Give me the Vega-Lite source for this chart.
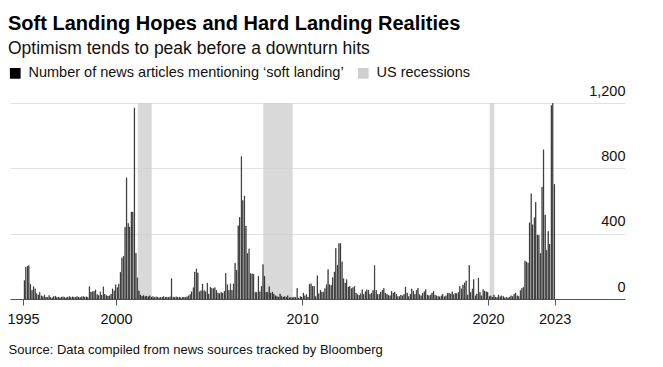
{
  "$schema": "https://vega.github.io/schema/vega-lite/v6.json",
  "width": 615,
  "height": 196,
  "autosize": {"type": "none"},
  "padding": {"left": 10, "top": 103, "right": 38, "bottom": 68},
  "background": "white",
  "title": {
    "text": "Soft Landing Hopes and Hard Landing Realities",
    "subtitle": "Optimism tends to peak before a downturn hits",
    "anchor": "start",
    "frame": "group",
    "dx": -2,
    "offset": 9,
    "font": "Liberation Sans",
    "fontSize": 20,
    "fontWeight": "bold",
    "color": "#000000",
    "subtitleFont": "Liberation Sans",
    "subtitleFontSize": 17.5,
    "subtitleColor": "#111111",
    "subtitlePadding": 6
  },
  "config": {
    "view": {"stroke": null},
    "font": "Liberation Sans"
  },
  "datasets": {
    "recessions": [
      {"start": "2001-03-01", "end": "2001-12-01"},
      {"start": "2007-12-01", "end": "2009-07-01"},
      {"start": "2020-02-01", "end": "2020-05-01"}
    ],
    "articles": [
      {"d":"1995-01-15","v":113},{"d":"1995-02-15","v":196},{"d":"1995-03-15","v":200},{"d":"1995-04-15","v":205},{"d":"1995-05-15","v":90},{"d":"1995-06-15","v":53},{"d":"1995-07-15","v":76},{"d":"1995-08-15","v":62},{"d":"1995-09-15","v":33},{"d":"1995-10-15","v":25},{"d":"1995-11-15","v":41},{"d":"1995-12-15","v":20},
      {"d":"1996-01-15","v":15},{"d":"1996-02-15","v":25},{"d":"1996-03-15","v":12},{"d":"1996-04-15","v":10},{"d":"1996-05-15","v":22},{"d":"1996-06-15","v":10},{"d":"1996-07-15","v":8},{"d":"1996-08-15","v":15},{"d":"1996-09-15","v":18},{"d":"1996-10-15","v":10},{"d":"1996-11-15","v":12},{"d":"1996-12-15","v":8},
      {"d":"1997-01-15","v":12},{"d":"1997-02-15","v":14},{"d":"1997-03-15","v":10},{"d":"1997-04-15","v":8},{"d":"1997-05-15","v":12},{"d":"1997-06-15","v":16},{"d":"1997-07-15","v":10},{"d":"1997-08-15","v":14},{"d":"1997-09-15","v":12},{"d":"1997-10-15","v":10},{"d":"1997-11-15","v":16},{"d":"1997-12-15","v":12},
      {"d":"1998-01-15","v":10},{"d":"1998-02-15","v":14},{"d":"1998-03-15","v":16},{"d":"1998-04-15","v":12},{"d":"1998-05-15","v":14},{"d":"1998-06-15","v":10},{"d":"1998-07-15","v":76},{"d":"1998-08-15","v":43},{"d":"1998-09-15","v":45},{"d":"1998-10-15","v":47},{"d":"1998-11-15","v":57},{"d":"1998-12-15","v":27},
      {"d":"1999-01-15","v":22},{"d":"1999-02-15","v":45},{"d":"1999-03-15","v":25},{"d":"1999-04-15","v":75},{"d":"1999-05-15","v":30},{"d":"1999-06-15","v":22},{"d":"1999-07-15","v":18},{"d":"1999-08-15","v":20},{"d":"1999-09-15","v":30},{"d":"1999-10-15","v":62},{"d":"1999-11-15","v":50},{"d":"1999-12-15","v":88},
      {"d":"2000-01-15","v":70},{"d":"2000-02-15","v":92},{"d":"2000-03-15","v":164},{"d":"2000-04-15","v":252},{"d":"2000-05-15","v":262},{"d":"2000-06-15","v":439},{"d":"2000-07-15","v":742},{"d":"2000-08-15","v":463},{"d":"2000-09-15","v":441},{"d":"2000-10-15","v":533},{"d":"2000-11-15","v":533},{"d":"2000-12-15","v":1170},
      {"d":"2001-01-15","v":280},{"d":"2001-02-15","v":130},{"d":"2001-03-15","v":50},{"d":"2001-04-15","v":25},{"d":"2001-05-15","v":18},{"d":"2001-06-15","v":22},{"d":"2001-07-15","v":15},{"d":"2001-08-15","v":18},{"d":"2001-09-15","v":14},{"d":"2001-10-15","v":20},{"d":"2001-11-15","v":12},{"d":"2001-12-15","v":15},
      {"d":"2002-01-15","v":10},{"d":"2002-02-15","v":14},{"d":"2002-03-15","v":12},{"d":"2002-04-15","v":8},{"d":"2002-05-15","v":10},{"d":"2002-06-15","v":12},{"d":"2002-07-15","v":15},{"d":"2002-08-15","v":10},{"d":"2002-09-15","v":12},{"d":"2002-10-15","v":10},{"d":"2002-11-15","v":14},{"d":"2002-12-15","v":125},
      {"d":"2003-01-15","v":12},{"d":"2003-02-15","v":10},{"d":"2003-03-15","v":14},{"d":"2003-04-15","v":10},{"d":"2003-05-15","v":12},{"d":"2003-06-15","v":8},{"d":"2003-07-15","v":10},{"d":"2003-08-15","v":12},{"d":"2003-09-15","v":10},{"d":"2003-10-15","v":14},{"d":"2003-11-15","v":20},{"d":"2003-12-15","v":29},
      {"d":"2004-01-15","v":45},{"d":"2004-02-15","v":70},{"d":"2004-03-15","v":165},{"d":"2004-04-15","v":185},{"d":"2004-05-15","v":160},{"d":"2004-06-15","v":45},{"d":"2004-07-15","v":50},{"d":"2004-08-15","v":92},{"d":"2004-09-15","v":52},{"d":"2004-10-15","v":45},{"d":"2004-11-15","v":98},{"d":"2004-12-15","v":30},
      {"d":"2005-01-15","v":72},{"d":"2005-02-15","v":66},{"d":"2005-03-15","v":64},{"d":"2005-04-15","v":70},{"d":"2005-05-15","v":53},{"d":"2005-06-15","v":37},{"d":"2005-07-15","v":33},{"d":"2005-08-15","v":41},{"d":"2005-09-15","v":37},{"d":"2005-10-15","v":47},{"d":"2005-11-15","v":158},{"d":"2005-12-15","v":88},
      {"d":"2006-01-15","v":53},{"d":"2006-02-15","v":94},{"d":"2006-03-15","v":53},{"d":"2006-04-15","v":94},{"d":"2006-05-15","v":219},{"d":"2006-06-15","v":176},{"d":"2006-07-15","v":449},{"d":"2006-08-15","v":500},{"d":"2006-09-15","v":873},{"d":"2006-10-15","v":603},{"d":"2006-11-15","v":631},{"d":"2006-12-15","v":447},
      {"d":"2007-01-15","v":279},{"d":"2007-02-15","v":307},{"d":"2007-03-15","v":156},{"d":"2007-04-15","v":154},{"d":"2007-05-15","v":152},{"d":"2007-06-15","v":41},{"d":"2007-07-15","v":41},{"d":"2007-08-15","v":139},{"d":"2007-09-15","v":45},{"d":"2007-10-15","v":78},{"d":"2007-11-15","v":211},{"d":"2007-12-15","v":139},
      {"d":"2008-01-15","v":41},{"d":"2008-02-15","v":41},{"d":"2008-03-15","v":76},{"d":"2008-04-15","v":37},{"d":"2008-05-15","v":43},{"d":"2008-06-15","v":31},{"d":"2008-07-15","v":20},{"d":"2008-08-15","v":16},{"d":"2008-09-15","v":12},{"d":"2008-10-15","v":31},{"d":"2008-11-15","v":16},{"d":"2008-12-15","v":12},
      {"d":"2009-01-15","v":16},{"d":"2009-02-15","v":12},{"d":"2009-03-15","v":20},{"d":"2009-04-15","v":8},{"d":"2009-05-15","v":10},{"d":"2009-06-15","v":8},{"d":"2009-07-15","v":12},{"d":"2009-08-15","v":10},{"d":"2009-09-15","v":66},{"d":"2009-10-15","v":6},{"d":"2009-11-15","v":16},{"d":"2009-12-15","v":12},
      {"d":"2010-01-15","v":37},{"d":"2010-02-15","v":20},{"d":"2010-03-15","v":28},{"d":"2010-04-15","v":12},{"d":"2010-05-15","v":90},{"d":"2010-06-15","v":94},{"d":"2010-07-15","v":78},{"d":"2010-08-15","v":78},{"d":"2010-09-15","v":16},{"d":"2010-10-15","v":143},{"d":"2010-11-15","v":33},{"d":"2010-12-15","v":53},
      {"d":"2011-01-15","v":43},{"d":"2011-02-15","v":43},{"d":"2011-03-15","v":64},{"d":"2011-04-15","v":88},{"d":"2011-05-15","v":180},{"d":"2011-06-15","v":88},{"d":"2011-07-15","v":84},{"d":"2011-08-15","v":131},{"d":"2011-09-15","v":166},{"d":"2011-10-15","v":310},{"d":"2011-11-15","v":207},{"d":"2011-12-15","v":340},
      {"d":"2012-01-15","v":340},{"d":"2012-02-15","v":228},{"d":"2012-03-15","v":125},{"d":"2012-04-15","v":98},{"d":"2012-05-15","v":119},{"d":"2012-06-15","v":74},{"d":"2012-07-15","v":78},{"d":"2012-08-15","v":64},{"d":"2012-09-15","v":70},{"d":"2012-10-15","v":78},{"d":"2012-11-15","v":37},{"d":"2012-12-15","v":27},
      {"d":"2013-01-15","v":23},{"d":"2013-02-15","v":33},{"d":"2013-03-15","v":57},{"d":"2013-04-15","v":29},{"d":"2013-05-15","v":45},{"d":"2013-06-15","v":57},{"d":"2013-07-15","v":53},{"d":"2013-08-15","v":29},{"d":"2013-09-15","v":37},{"d":"2013-10-15","v":53},{"d":"2013-11-15","v":205},{"d":"2013-12-15","v":53},
      {"d":"2014-01-15","v":29},{"d":"2014-02-15","v":29},{"d":"2014-03-15","v":43},{"d":"2014-04-15","v":53},{"d":"2014-05-15","v":66},{"d":"2014-06-15","v":37},{"d":"2014-07-15","v":29},{"d":"2014-08-15","v":23},{"d":"2014-09-15","v":20},{"d":"2014-10-15","v":47},{"d":"2014-11-15","v":37},{"d":"2014-12-15","v":43},
      {"d":"2015-01-15","v":29},{"d":"2015-02-15","v":16},{"d":"2015-03-15","v":16},{"d":"2015-04-15","v":25},{"d":"2015-05-15","v":20},{"d":"2015-06-15","v":29},{"d":"2015-07-15","v":74},{"d":"2015-08-15","v":37},{"d":"2015-09-15","v":16},{"d":"2015-10-15","v":29},{"d":"2015-11-15","v":62},{"d":"2015-12-15","v":49},
      {"d":"2016-01-15","v":29},{"d":"2016-02-15","v":53},{"d":"2016-03-15","v":66},{"d":"2016-04-15","v":27},{"d":"2016-05-15","v":20},{"d":"2016-06-15","v":35},{"d":"2016-07-15","v":45},{"d":"2016-08-15","v":58},{"d":"2016-09-15","v":25},{"d":"2016-10-15","v":20},{"d":"2016-11-15","v":25},{"d":"2016-12-15","v":37},
      {"d":"2017-01-15","v":47},{"d":"2017-02-15","v":25},{"d":"2017-03-15","v":20},{"d":"2017-04-15","v":16},{"d":"2017-05-15","v":14},{"d":"2017-06-15","v":20},{"d":"2017-07-15","v":29},{"d":"2017-08-15","v":14},{"d":"2017-09-15","v":20},{"d":"2017-10-15","v":35},{"d":"2017-11-15","v":37},{"d":"2017-12-15","v":31},
      {"d":"2018-01-15","v":45},{"d":"2018-02-15","v":27},{"d":"2018-03-15","v":35},{"d":"2018-04-15","v":33},{"d":"2018-05-15","v":41},{"d":"2018-06-15","v":78},{"d":"2018-07-15","v":62},{"d":"2018-08-15","v":86},{"d":"2018-09-15","v":99},{"d":"2018-10-15","v":111},{"d":"2018-11-15","v":25},{"d":"2018-12-15","v":206},
      {"d":"2019-01-15","v":41},{"d":"2019-02-15","v":62},{"d":"2019-03-15","v":120},{"d":"2019-04-15","v":20},{"d":"2019-05-15","v":31},{"d":"2019-06-15","v":128},{"d":"2019-07-15","v":41},{"d":"2019-08-15","v":20},{"d":"2019-09-15","v":58},{"d":"2019-10-15","v":49},{"d":"2019-11-15","v":45},{"d":"2019-12-15","v":41},
      {"d":"2020-01-15","v":16},{"d":"2020-02-15","v":20},{"d":"2020-03-15","v":10},{"d":"2020-04-15","v":25},{"d":"2020-05-15","v":12},{"d":"2020-06-15","v":10},{"d":"2020-07-15","v":25},{"d":"2020-08-15","v":14},{"d":"2020-09-15","v":20},{"d":"2020-10-15","v":16},{"d":"2020-11-15","v":8},{"d":"2020-12-15","v":10},
      {"d":"2021-01-15","v":8},{"d":"2021-02-15","v":12},{"d":"2021-03-15","v":20},{"d":"2021-04-15","v":16},{"d":"2021-05-15","v":29},{"d":"2021-06-15","v":37},{"d":"2021-07-15","v":20},{"d":"2021-08-15","v":16},{"d":"2021-09-15","v":52},{"d":"2021-10-15","v":66},{"d":"2021-11-15","v":72},{"d":"2021-12-15","v":233},
      {"d":"2022-01-15","v":227},{"d":"2022-02-15","v":221},{"d":"2022-03-15","v":467},{"d":"2022-04-15","v":644},{"d":"2022-05-15","v":455},{"d":"2022-06-15","v":498},{"d":"2022-07-15","v":592},{"d":"2022-08-15","v":392},{"d":"2022-09-15","v":390},{"d":"2022-10-15","v":279},{"d":"2022-11-15","v":685},{"d":"2022-12-15","v":914},
      {"d":"2023-01-15","v":515},{"d":"2023-02-15","v":299},{"d":"2023-03-15","v":414},{"d":"2023-04-15","v":336},{"d":"2023-05-15","v":1185},{"d":"2023-06-15","v":1198},{"d":"2023-07-15","v":703}
    ]
  },
  "layer": [
    {
      "data": {"name": "recessions"},
      "mark": {"type": "rect", "opacity": 0.8},
      "encoding": {
        "x": {
          "field": "start",
          "type": "temporal",
          "scale": {"domain": [{"year": 1994, "month": 4, "date": 20}, {"year": 2027, "month": 5, "date": 13}]},
          "axis": {
            "values": [
              {"year": 1995, "month": 1, "date": 1},
              {"year": 2000, "month": 1, "date": 1},
              {"year": 2010, "month": 1, "date": 1},
              {"year": 2020, "month": 1, "date": 1},
              {"year": 2023, "month": 8, "date": 1}
            ],
            "format": "%Y",
            "grid": false,
            "domainColor": "#555555",
            "tickColor": "#555555",
            "tickSize": 6,
            "labelFontSize": 14.5,
            "labelColor": "#111111",
            "labelPadding": 7,
            "labelFlush": false,
            "labelOverlap": false,
            "title": "Source: Data compiled from news sources tracked by Bloomberg",
            "titleFontSize": 13,
            "titleFontWeight": "normal",
            "titleColor": "#111111",
            "titleAnchor": "start",
            "titleAlign": "left",
            "titleBaseline": "alphabetic",
            "titleX": -2,
            "titleY": 54
          }
        },
        "x2": {"field": "end"},
        "color": {
          "datum": "US recessions",
          "type": "nominal",
          "scale": {
            "domain": ["Number of news articles mentioning ‘soft landing’", "US recessions"],
            "range": ["#000000", "#cfcfcf"]
          },
          "legend": {
            "orient": "none",
            "legendX": -2,
            "legendY": -37,
            "direction": "horizontal",
            "title": null,
            "symbolType": "square",
            "symbolSize": 115,
            "symbolOpacity": 1,
            "symbolStrokeWidth": 0,
            "labelFontSize": 14.5,
            "labelColor": "#111111",
            "labelOffset": 6,
            "labelLimit": 500,
            "columnPadding": 12
          }
        }
      }
    },
    {
      "data": {"name": "articles"},
      "mark": {"type": "bar", "timeUnitBandSize": 0.9, "stroke": "#000000", "strokeWidth": 0.35},
      "encoding": {
        "x": {"field": "d", "type": "temporal", "timeUnit": "yearmonth", "title": "Source: Data compiled from news sources tracked by Bloomberg"},
        "y": {
          "field": "v",
          "type": "quantitative",
          "scale": {"domain": [0, 1200]},
          "axis": {
            "orient": "right",
            "values": [0, 400, 800, 1200],
            "format": ",.0f",
            "grid": true,
            "gridColor": "#e2e2e2",
            "domain": false,
            "ticks": false,
            "tickSize": 0,
            "labelAlign": "right",
            "labelBaseline": "alphabetic",
            "labelPadding": 0,
            "labelOffset": -8,
            "labelFontSize": 14.5,
            "labelColor": "#111111",
            "title": null
          }
        },
        "color": {"datum": "Number of news articles mentioning ‘soft landing’", "type": "nominal"}
      }
    }
  ]
}
